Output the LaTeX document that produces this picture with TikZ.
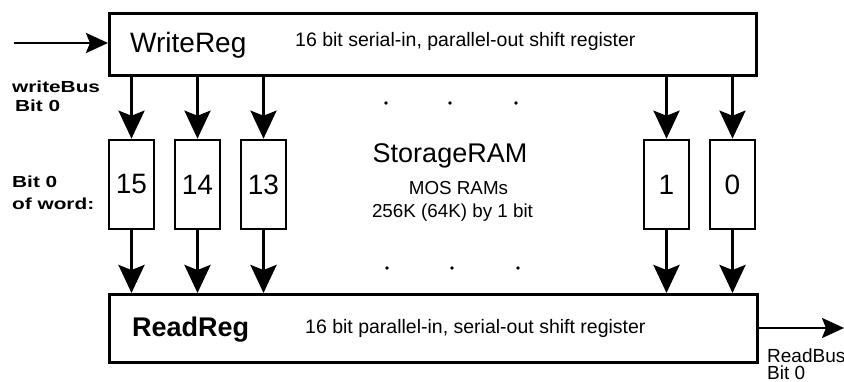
\documentclass[tikz,border=0pt]{standalone}
\usepackage{fontspec}
\setmainfont{Liberation Sans}
\newfontfamily\lblfont[FakeStretch=1.3]{Liberation Sans}
\usetikzlibrary{arrows.meta}
\begin{document}
\begin{tikzpicture}[x=1pt,y=-1pt,
  box/.style={draw, line width=2.6pt, inner sep=0pt},
  cell/.style={box, minimum width=45pt, minimum height=89pt, font=\fontsize{28}{30}\selectfont},
  arr/.style={line width=3pt, -{Stealth[length=28pt,width=26pt,inset=5pt]}},
  harr/.style={line width=2.8pt, -{Stealth[length=22pt,width=20pt,inset=4pt]}},
  txt/.style={inner sep=0pt, anchor=base west},
  lbl/.style={txt, font=\lblfont\bfseries\fontsize{16}{18}\selectfont},
  dot/.style={circle, fill, inner sep=0pt, minimum size=3.8pt}
  ]
\useasboundingbox (0,0) rectangle (844,382);
% registers
\node[box, anchor=north west, minimum width=647pt, minimum height=62pt] (wr) at (108,12) {};
\node[box, anchor=north west, minimum width=648pt, minimum height=68pt] (rr) at (108,293) {};
\node[txt, font=\fontsize{28}{30}\selectfont] (wrt) at (130,53) {WriteReg};
\node[txt, font=\fontsize{19.5}{21}\selectfont] (wrd) at (295,47) {16 bit serial-in, parallel-out shift register};
\node[txt, font=\bfseries\fontsize{27}{30}\selectfont] (rrt) at (132,337) {ReadReg};
\node[txt, font=\fontsize{19.5}{21}\selectfont] (rrd) at (305,334) {16 bit parallel-in, serial-out shift register};
% RAM cells
\node[cell] (b15) at (131.5,184.5) {15};
\node[cell] (b14) at (197.5,184.5) {14};
\node[cell] (b13) at (263.5,184.5) {13};
\node[cell] (b1) at (666.5,184.5) {1};
\node[cell] (b0) at (732.5,184.5) {0};
% centre texts
\node[inner sep=0pt, anchor=base, font=\fontsize{27}{30}\selectfont] (st) at (450,163) {StorageRAM};
\node[inner sep=0pt, anchor=base, font=\fontsize{18.8}{21}\selectfont] (mos) at (458.5,195) {MOS RAMs};
\node[inner sep=0pt, anchor=base, font=\fontsize{18.8}{21}\selectfont] (kb) at (452.5,218) {256K (64K) by 1 bit};
% dots
\node[dot] (d1) at (386,103) {};
\node[dot] (d2) at (450,103) {};
\node[dot] (d3) at (516,103) {};
\node[dot] (d4) at (387,268) {};
\node[dot] (d5) at (452,268) {};
\node[dot] (d6) at (518,268) {};
% arrows
\foreach \b in {b15,b14,b13,b1,b0}{
  \draw[arr] (wr.south -| \b.north) -- (\b.north);
  \draw[arr] (\b.south) -- (rr.north -| \b.south);
}
\coordinate (in) at (14,43);
\coordinate (out) at (844,328);
\draw[harr] (in) -- (wr.west |- in);
\draw[harr] (rr.east |- out) -- (out);
% side labels
\node[lbl] (wb1) at (12,93) {writeBus};
\node[lbl] (wb2) at (15,112) {Bit 0};
\node[lbl] (ow1) at (12,188) {Bit 0};
\node[lbl] (ow2) at (12,210) {of word:};
\node[txt, font=\fontsize{19}{21}\selectfont] (rb1) at (767,362) {ReadBus};
\node[txt, font=\fontsize{19}{21}\selectfont] (rb2) at (767,379.5) {Bit 0};
\end{tikzpicture}
\end{document}
